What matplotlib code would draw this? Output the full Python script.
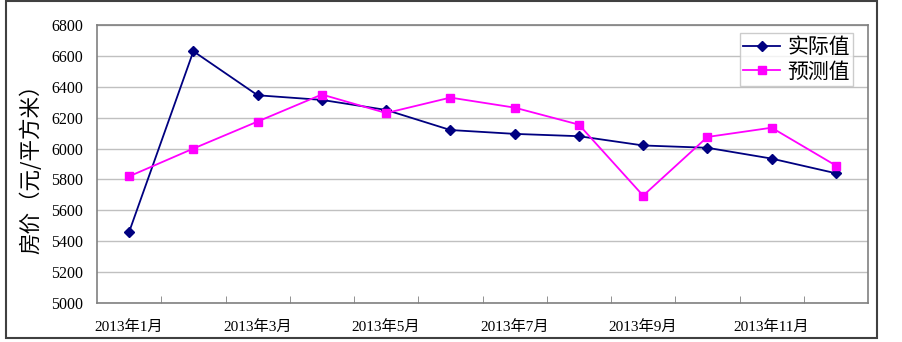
import numpy as np
import matplotlib
matplotlib.use('Agg')
import matplotlib.pyplot as plt
from matplotlib.patches import Rectangle

plt.rcParams['font.family'] = ['Liberation Serif', 'Noto Sans CJK SC']
plt.rcParams['axes.unicode_minus'] = False

# --- 数据 ---
months = ['2013年1月', '2013年2月', '2013年3月', '2013年4月', '2013年5月', '2013年6月',
          '2013年7月', '2013年8月', '2013年9月', '2013年10月', '2013年11月', '2013年12月']
actual = [5460, 6630, 6345, 6315, 6250, 6120, 6095, 6080, 6020, 6005, 5935, 5840]
predicted = [5820, 6000, 6175, 6350, 6230, 6330, 6265, 6155, 5695, 6075, 6135, 5890]
y_ticks = [5000, 5200, 5400, 5600, 5800, 6000, 6200, 6400, 6600, 6800]

fig = plt.figure(figsize=(9.02, 3.42), dpi=100)
fig.patch.set_facecolor('white')

# 外框
fig.patches.append(Rectangle((6 / 902, 1 - 338 / 342), (877 - 6) / 902, (338 - 1) / 342,
                             transform=fig.transFigure, fill=False,
                             edgecolor='#404040', linewidth=1.5))

ax = fig.add_axes([97 / 902, 1 - 303 / 342, (868 - 97) / 902, (303 - 25) / 342])

x = np.arange(len(months))
ax.plot(x, actual, color='#000080', marker='D', markersize=5.5, linewidth=1.3,
        label='实际值', zorder=3)
ax.plot(x, predicted, color='#FF00FF', marker='s', markersize=5.5, linewidth=1.3,
        label='预测值', zorder=3)

ax.set_xlim(-0.5, len(months) - 0.5)
ax.set_ylim(y_ticks[0], y_ticks[-1])
ax.set_yticks(y_ticks)
ax.tick_params(axis='y', length=0, labelsize=11.5, pad=10)
ax.yaxis.grid(True, color='#c0c0c0', linewidth=1)
ax.set_axisbelow(True)

ax.set_xticks(x[::2])
ax.set_xticklabels(months[::2])
ax.tick_params(axis='x', which='major', length=0, labelsize=11, pad=12)
ax.set_xticks(np.arange(0.5, len(months) - 0.5, 1), minor=True)
ax.tick_params(axis='x', which='minor', direction='in', length=5, color='#808080')

for s in ax.spines.values():
    s.set_color('#808080')
    s.set_linewidth(1.2)

ax.set_ylabel('房价（元/平方米）', fontsize=15.5, family=['Noto Sans CJK SC'], labelpad=6)

leg = ax.legend(loc='upper right', bbox_to_anchor=(0.9805, 0.971),
                frameon=True, fancybox=False, handlelength=1.75, handletextpad=0.35,
                borderpad=0.15, labelspacing=0.12, borderaxespad=0,
                prop={'family': ['Noto Sans CJK SC'], 'size': 15})
leg.get_frame().set_edgecolor('#c0c0c0')
leg.get_frame().set_linewidth(1)

fig.savefig('out.png', dpi=100)
